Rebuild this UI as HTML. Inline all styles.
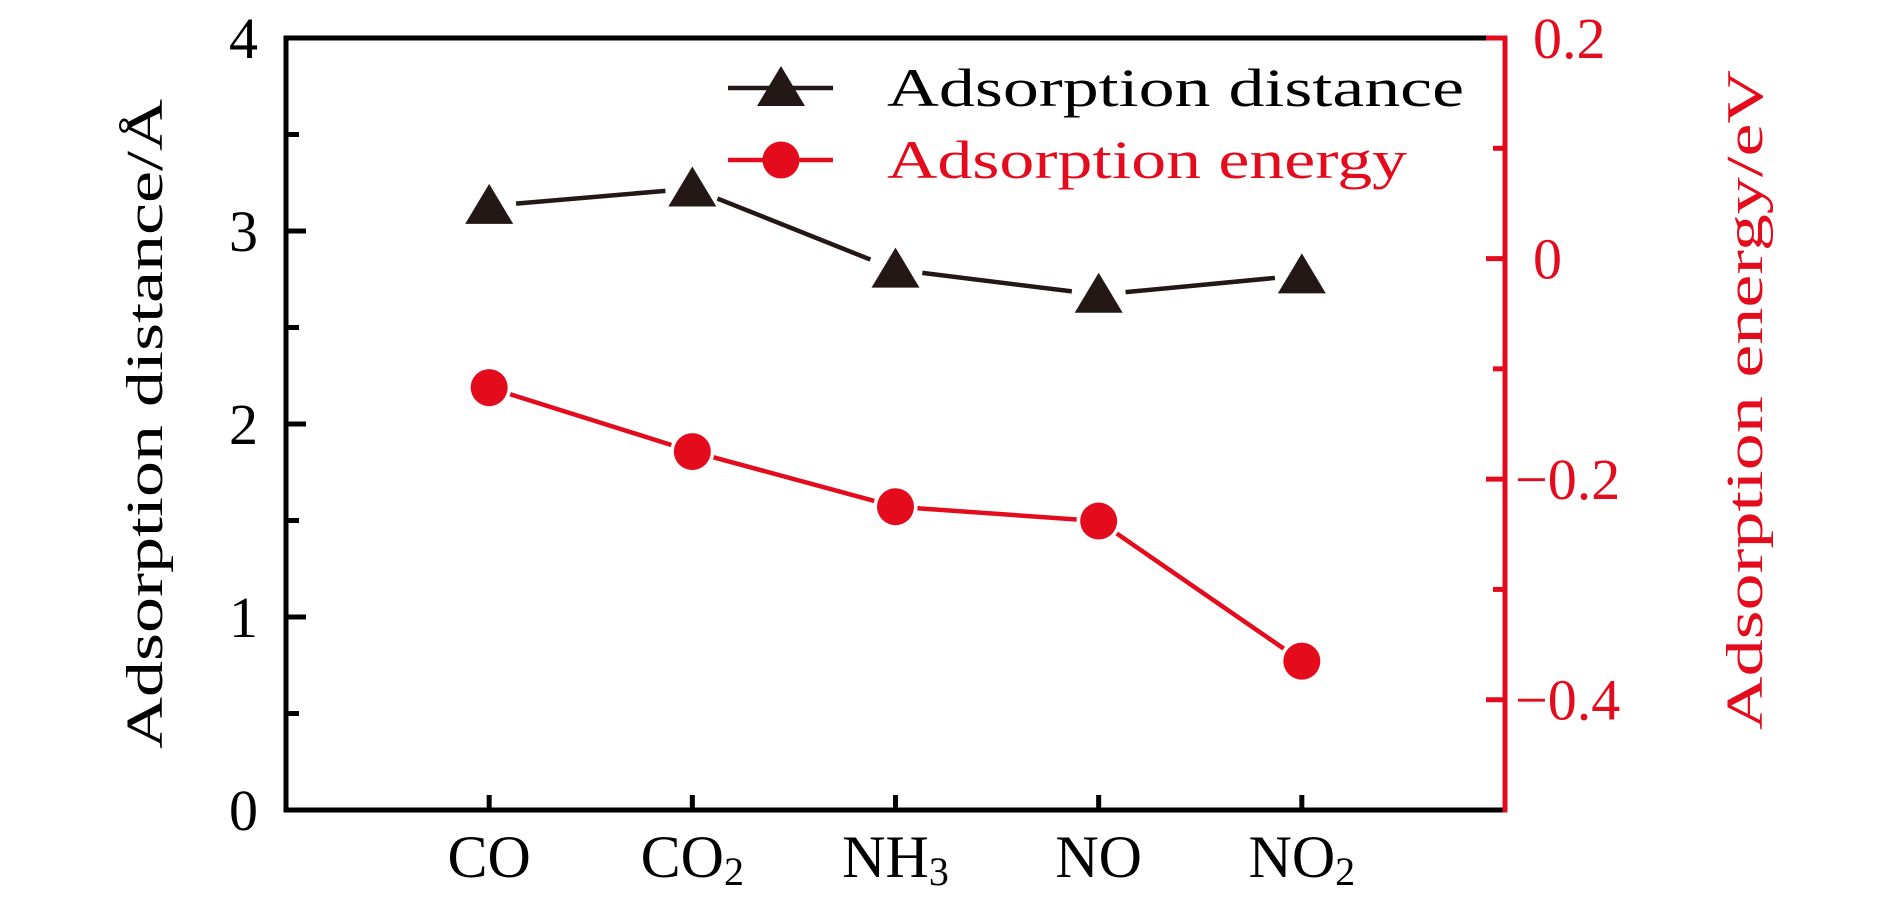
<!DOCTYPE html>
<html><head><meta charset="utf-8"><style>html,body{margin:0;padding:0;background:#fff}svg{display:block}</style></head>
<body>
<svg id="chart" width="1890" height="898" xmlns="http://www.w3.org/2000/svg" font-family="'Liberation Serif', serif"></svg>
<script>
const categories = ["CO","CO2","NH3","NO","NO2"];
const distanceValues = [3.13, 3.22, 2.80, 2.67, 2.77];
const energyValues = [-0.117, -0.175, -0.225, -0.238, -0.365];
const leftTicks = [0,1,2,3,4];
const leftMinor = [0.5,1.5,2.5,3.5];
const rightTicks = [0.2,0,-0.2,-0.4];
const rightMinor = [0.1,-0.1,-0.3];

const NS="http://www.w3.org/2000/svg";
const svg=document.getElementById('chart');
const L=286,R=1505,T=38,B=810;
const RED="#e30b1c",BLK="#231815";
const xPos=i=>L+(R-L)*(i+1)/(categories.length+1);
const yL=v=>B-(v-0)/(4-0)*(B-T);
const yR=v=>B-(v-(-0.5))/(0.2-(-0.5))*(B-T);
function mk(tag,attrs,parent){const e=document.createElementNS(NS,tag);for(const k in attrs)e.setAttribute(k,attrs[k]);(parent||svg).appendChild(e);return e;}

let g=mk('g',{});


mk('line',{x1:L,y1:T-2.5,x2:L,y2:B+2.5,stroke:'#000','stroke-width':5},g);
leftTicks.forEach(v=>{mk('line',{x1:L,y1:yL(v),x2:L+20,y2:yL(v),stroke:'#000','stroke-width':5},g);
 const t=mk('text',{x:L-28,y:yL(v)+20,'text-anchor':'end','font-size':58,fill:'#000'},g);t.textContent=v;
 
 });
leftMinor.forEach(v=>mk('line',{x1:L,y1:yL(v),x2:L+13,y2:yL(v),stroke:'#000','stroke-width':5},g));
let tg=mk('g',{});


mk('line',{x1:L,y1:T,x2:R,y2:T,stroke:'#000','stroke-width':5},tg);
let bg=mk('g',{});


mk('line',{x1:L,y1:B,x2:R,y2:B,stroke:'#000','stroke-width':5},bg);
const subs={"CO2":["CO","2"],"NH3":["NH","3"],"NO2":["NO","2"]};
categories.forEach((c,i)=>{const x=xPos(i);
 mk('line',{x1:x,y1:B,x2:x,y2:B-15,stroke:'#000','stroke-width':5},bg);
 const t=mk('text',{x:x,y:877,'text-anchor':'middle','font-size':60,fill:'#000'},bg);
 
 
 if(subs[c]){t.textContent=subs[c][0];const s=mk('tspan',{'font-size':40,dy:8},t);s.textContent=subs[c][1];}
 else t.textContent=c;});
let rg=mk('g',{});


mk('line',{x1:R,y1:T-2.5,x2:R,y2:B+2.5,stroke:RED,'stroke-width':5},rg);
rightTicks.forEach(v=>{mk('line',{x1:R,y1:yR(v),x2:R-19,y2:yR(v),stroke:RED,'stroke-width':5},rg);
 const t=mk('text',{x:v<0?1515:1533,y:yR(v)+20,'font-size':58,fill:RED},rg);
 t.textContent=v<0?'\u2212'+Math.abs(v).toFixed(1):(v===0?'0':v.toFixed(1));
 
 });
rightMinor.forEach(v=>mk('line',{x1:R,y1:yR(v),x2:R-12,y2:yR(v),stroke:RED,'stroke-width':5},rg));

let yt=mk('text',{transform:'translate(162,424) rotate(-90)','text-anchor':'middle','font-size':52,fill:'#000',textLength:650,lengthAdjust:'spacingAndGlyphs'});
yt.textContent='Adsorption distance/\u00c5';


let yt2=mk('text',{transform:'translate(1762,400) rotate(-90)','text-anchor':'middle','font-size':52,fill:RED,textLength:660,lengthAdjust:'spacingAndGlyphs'});
yt2.textContent='Adsorption energy/eV';



function tri(x,y,c,parent){return mk('polygon',{points:`${x},${y-22} ${x-24},${y+18} ${x+24},${y+18}`,fill:c},parent);}
function pathGap(xs,ys,gap,col,parent){for(let i=0;i<xs.length-1;i++){const dx=xs[i+1]-xs[i],dy=ys[i+1]-ys[i],d=Math.hypot(dx,dy);
 mk('line',{x1:xs[i]+dx*gap/d,y1:ys[i]+dy*gap/d,x2:xs[i+1]-dx*gap/d,y2:ys[i+1]-dy*gap/d,stroke:col,'stroke-width':4.5},parent);}}

let ds=mk('g',{});


pathGap(categories.map((c,i)=>xPos(i)),distanceValues.map(yL),27,BLK,ds);
distanceValues.forEach((v,i)=>{const p=tri(xPos(i),yL(v),BLK,ds);
 
 });
let es=mk('g',{});


pathGap(categories.map((c,i)=>xPos(i)),energyValues.map(yR),22,RED,es);
energyValues.forEach((v,i)=>{const p=mk('circle',{cx:xPos(i),cy:yR(v),r:18.5,fill:RED},es);
 
 });

let lg=mk('g',{});


let le1=mk('g',{},lg);


mk('line',{x1:728,y1:88,x2:833,y2:88,stroke:BLK,'stroke-width':4.5},le1);
tri(781,88,BLK,le1);
let lt1=mk('text',{x:887,y:106,'font-size':54,fill:'#000',textLength:577,lengthAdjust:'spacingAndGlyphs'},le1);lt1.textContent='Adsorption distance';
let le2=mk('g',{},lg);


mk('line',{x1:728,y1:160,x2:833,y2:160,stroke:RED,'stroke-width':4.5},le2);
mk('circle',{cx:781,cy:160,r:18.5,fill:RED},le2);
let lt2=mk('text',{x:887,y:178,'font-size':54,fill:RED,textLength:520,lengthAdjust:'spacingAndGlyphs'},le2);lt2.textContent='Adsorption energy';
</script>
</body></html>
